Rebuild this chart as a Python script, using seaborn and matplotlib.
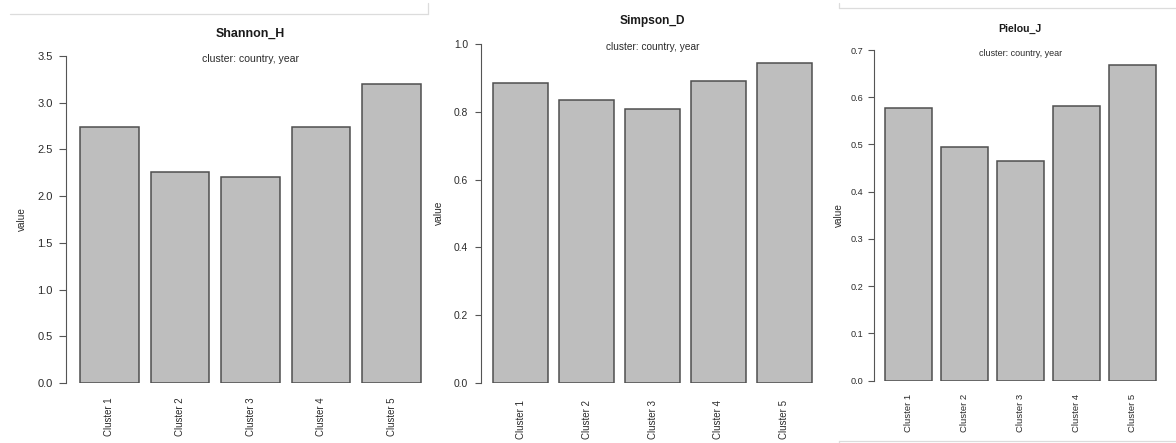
import matplotlib
matplotlib.use("Agg")
import matplotlib.pyplot as plt
from matplotlib.lines import Line2D
import numpy as np
import pandas as pd
import seaborn as sns

# Diversity indices per cluster
clusters = ["Cluster 1", "Cluster 2", "Cluster 3", "Cluster 4", "Cluster 5"]
shannon_h = [2.74, 2.26, 2.21, 2.74, 3.20]
simpson_d = [0.883, 0.833, 0.808, 0.890, 0.943]
pielou_j = [0.577, 0.495, 0.464, 0.581, 0.668]

subtitle = "cluster: country, year"

shannon_ticks = [0.0, 0.5, 1.0, 1.5, 2.0, 2.5, 3.0, 3.5]
simpson_ticks = [0.0, 0.2, 0.4, 0.6, 0.8, 1.0]
pielou_ticks = [0.0, 0.1, 0.2, 0.3, 0.4, 0.5, 0.6, 0.7]

sns.set_style("white")
plt.rcParams["font.family"] = ["Liberation Sans", "DejaVu Sans"]

W, H = 1176, 443
fig = plt.figure(figsize=(W / 100, H / 100), dpi=100)
fig.patch.set_facecolor("white")

BAR_FILL = "#bebebe"
BAR_EDGE = "#4f4f4f"
AXIS_COL = "#555555"
TEXT_COL = "#2b2b2b"


def fx(px):
    return px / W


def fy(py):
    return 1 - py / H


# panel layout in pixels: plot-region left/right, y of zero, y of top tick
panels = [
    dict(name="Shannon_H", values=shannon_h, ticks=shannon_ticks,
         left=66.4, right=434.6, y0=383.0, ytop=56.0,
         title_xy=(250.0, 34.0), sub_xy=(250.5, 58.7), ylab_xy=(22.0, 219.0),
         title_fs=8.9, sub_fs=7.6, ytick_fs=8.0, xtick_fs=6.9, ylab_fs=7.2,
         tick_len=5.0, ypad=5.0, xpad=10.5),
    dict(name="Simpson_D", values=simpson_d, ticks=simpson_ticks,
         left=480.6, right=824.4, y0=383.3, ytop=43.7,
         title_xy=(652.3, 21.3), sub_xy=(652.8, 46.7), ylab_xy=(439.0, 213.0),
         title_fs=8.6, sub_fs=7.3, ytick_fs=7.4, xtick_fs=7.0, ylab_fs=7.4,
         tick_len=4.0, ypad=5.0, xpad=12.0),
    dict(name="Pielou_J", values=pielou_j, ticks=pielou_ticks,
         left=873.9, right=1166.9, y0=380.7, ytop=50.0,
         title_xy=(1020.0, 29.0), sub_xy=(1020.5, 53.0), ylab_xy=(839.0, 215.0),
         title_fs=7.6, sub_fs=6.5, ytick_fs=6.6, xtick_fs=6.8, ylab_fs=7.2,
         tick_len=4.3, ypad=3.4, xpad=9.6),
]

for p in panels:
    ax = fig.add_axes([fx(p["left"]), fy(p["y0"]),
                       fx(p["right"] - p["left"]), (p["y0"] - p["ytop"]) / H])
    ax.set_facecolor("none")
    df = pd.DataFrame({"cluster": clusters, "value": p["values"]})
    sns.barplot(data=df, x="cluster", y="value", color=BAR_FILL, saturation=1,
                edgecolor=BAR_EDGE, linewidth=1.1, width=0.833, ax=ax)
    ax.set_xlim(-0.61, 4.61)
    ax.set_ylim(p["ticks"][0], p["ticks"][-1])
    ax.set_yticks(p["ticks"])
    ax.set_yticklabels([f"{t:.1f}" for t in p["ticks"]])
    ax.set_xlabel("")
    ax.set_ylabel("")
    for side in ("top", "right", "bottom"):
        ax.spines[side].set_visible(False)
    ax.spines["left"].set_color(AXIS_COL)
    ax.spines["left"].set_linewidth(0.8)
    ax.spines["left"].set_bounds(p["ticks"][0], p["ticks"][-1])
    ax.tick_params(axis="y", direction="out", length=p["tick_len"], width=0.8,
                   color=AXIS_COL, labelsize=p["ytick_fs"], labelcolor=TEXT_COL,
                   pad=p["ypad"], left=True)
    ax.tick_params(axis="x", length=0, labelsize=p["xtick_fs"],
                   labelcolor=TEXT_COL, pad=p["xpad"], labelrotation=90)
    for lab in ax.get_xticklabels():
        lab.set_va("top")
        lab.set_ha("center")

    fig.text(fx(p["title_xy"][0]), fy(p["title_xy"][1]), p["name"],
             ha="center", va="center", fontsize=p["title_fs"],
             fontweight="bold", color="#1a1a1a")
    fig.text(fx(p["sub_xy"][0]), fy(p["sub_xy"][1]), subtitle,
             ha="center", va="center", fontsize=p["sub_fs"], color=TEXT_COL)
    fig.text(fx(p["ylab_xy"][0]), fy(p["ylab_xy"][1]), "value",
             ha="center", va="center", rotation=90,
             fontsize=p["ylab_fs"], color=TEXT_COL)

# thin frame edges around the first and third panels
FRAME = "#dcdcdc"
frame_segments = [
    ((10, 14.3), (427.5, 14.3)),
    ((427.5, 14.3), (427.5, 3)),
    ((839, 8.3), (1176, 8.3)),
    ((839, 8.3), (839, 3)),
    ((839, 440.7), (1176, 440.7)),
    ((839, 440.7), (839, 443)),
]
for (x1, y1), (x2, y2) in frame_segments:
    fig.add_artist(Line2D([fx(x1), fx(x2)], [fy(y1), fy(y2)],
                          color=FRAME, linewidth=0.9))

fig.savefig("out.png", dpi=100, facecolor="white")
